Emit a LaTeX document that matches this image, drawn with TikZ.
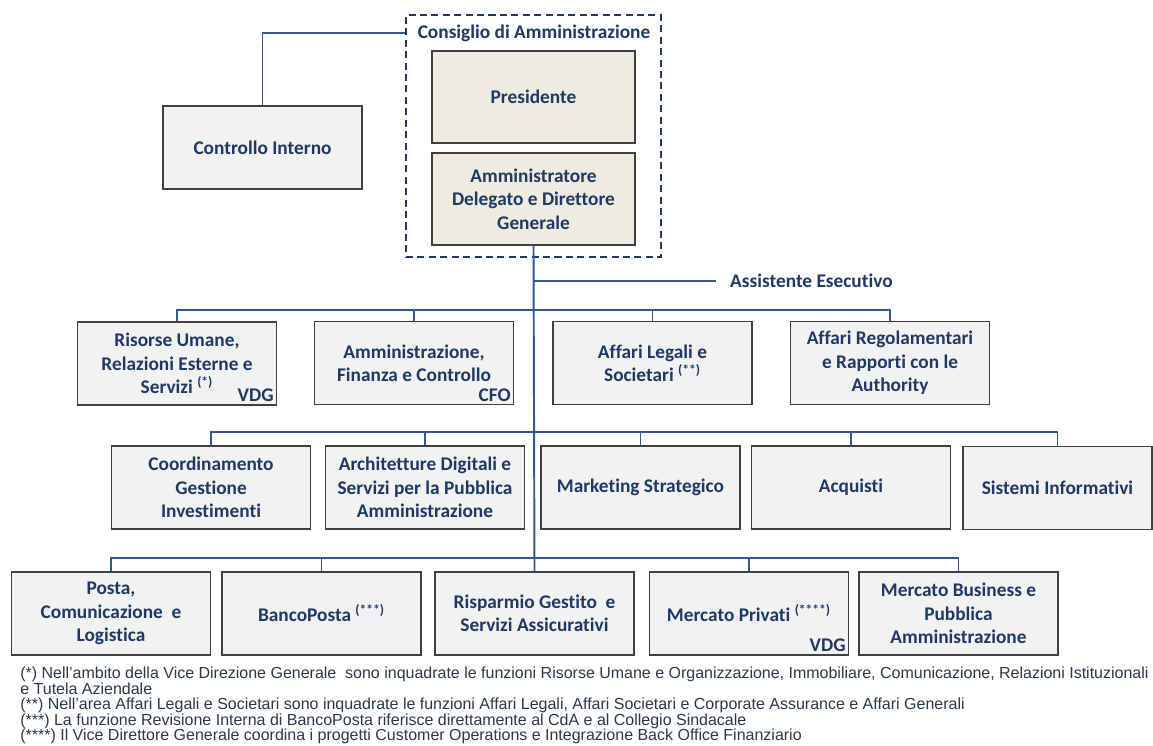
\documentclass[tikz,border=0pt]{standalone}
\usepackage{fontspec}
\setmainfont{Carlito}[Ligatures=NoCommon]
\newfontfamily\notefont{Liberation Sans}
\usepackage{xcolor}
\definecolor{navy}{RGB}{31,56,100}
\definecolor{linea}{RGB}{52,88,146}
\definecolor{boxgray}{RGB}{242,242,242}
\definecolor{boxbeige}{RGB}{238,236,225}
\definecolor{notecol}{RGB}{45,55,75}
\usepackage{tikz}
\usetikzlibrary{positioning,calc}

\begin{document}
\begin{tikzpicture}[x=0.02cm,y=-0.02cm,
  unit/.style={draw=black!75,line width=1.1pt,fill=boxgray,minimum width=3.98cm,minimum height=1.66cm,
    align=center,text=navy,font=\fontsize{11}{13.3}\selectfont\bfseries,inner sep=2pt},
  board/.style={unit,fill=boxbeige,minimum width=4.06cm,minimum height=1.84cm},
  tag/.style={anchor=south east,text=navy,font=\fontsize{11}{13}\selectfont\bfseries,inner sep=2pt},
  link/.style={draw=linea,line width=1.1pt}]
  \useasboundingbox (0,0) rectangle (1153,745);

  % The board of directors:
  \node[draw=navy,line width=1.2pt,dash pattern=on 4pt off 2.5pt,minimum width=5.1cm,minimum height=4.84cm] (cda) at (533.5,136) {};
  \node[text=navy,font=\fontsize{11}{13}\selectfont\bfseries] (cdatitle) at (534,33) {Consiglio di Amministrazione};
  \node[board] (pres) at (533.5,97) {Presidente};
  \node[board] (ad) at (533.5,199) {Amministratore\\Delegato e Direttore\\Generale};
  \node[unit] (ci) at (262.5,147.5) {Controllo Interno};
  \draw[link] (ci.north) |- (cda.west |- cdatitle);

  % First row:
  \node[unit] (ru) at (177,363.5) {Risorse Umane,\\Relazioni Esterne e\\Servizi~\textsuperscript{(*)}};
  \node[unit] (afc) at (414,363) {Amministrazione,\\Finanza e Controllo};
  \node[unit] (als) at (652.5,363) {Affari Legali e\\Societari \textsuperscript{(**)}};
  \node[unit] (arg) at (890,363) {Affari Regolamentari\\e Rapporti con le\\Authority};
  \node[tag] (vdg1) at (ru.south east) {VDG};
  \node[tag] (cfo) at (afc.south east) {CFO};

  % Second row:
  \node[unit] (cgi) at (211,487.5) {Coordinamento\\Gestione\\Investimenti};
  \node[unit] (ads) at (425,487.5) {Architetture Digitali e\\Servizi per la Pubblica\\Amministrazione};
  \node[unit] (mks) at (640.5,487.5) {Marketing Strategico};
  \node[unit] (acq) at (851,487.5) {Acquisti};
  \node[unit,minimum width=3.78cm] (sin) at (1057.5,488) {Sistemi Informativi};

  % Third row:
  \node[unit] (pcl) at (111,613.5) {Posta,\\Comunicazione~ e\\Logistica};
  \node[unit] (bpo) at (321.5,613.5) {BancoPosta \textsuperscript{(***)}};
  \node[unit] (rgs) at (534.5,613.5) {Risparmio Gestito~ e\\Servizi Assicurativi};
  \node[unit] (mpr) at (749,613.5) {Mercato Privati \textsuperscript{(****)}};
  \node[unit] (mbp) at (958.5,613.5) {Mercato Business e\\Pubblica\\Amministrazione};
  \node[tag] (vdg2) at (mpr.south east) {VDG};

  % The connectors:
  \node[text=navy,font=\fontsize{11}{13}\selectfont\bfseries,anchor=west] (ass) at (724,281) {Assistente Esecutivo};
  \coordinate (bus1) at (534,310);
  \coordinate (bus2) at (534,432);
  \coordinate (bus3) at (534,558);
  \draw[link] (ad.south) -- (rgs.north);
  \draw[link] (ad.south |- ass) -- ++(182,0);
  \draw[link] (ru.north) |- (bus1) -| (arg.north);
  \draw[link] (cgi.north) |- (bus2) -| (sin.north);
  \draw[link] (pcl.north) |- (bus3) -| (mbp.north);
  \foreach \n/\b in {afc/bus1,als/bus1,ads/bus2,mks/bus2,acq/bus2,bpo/bus3,mpr/bus3}
    \draw[link] (\n.north) -- (\n.north |- \b);

  % The notes:
  \node[anchor=north west,align=left,inner sep=0pt,text=notecol,font=\notefont\fontsize{9.1}{8.8}\selectfont] (notes) at (20,667)
    {(*) Nell’ambito della Vice Direzione Generale~ sono inquadrate le funzioni Risorse Umane e Organizzazione, Immobiliare, Comunicazione, Relazioni Istituzionali\\
     e Tutela Aziendale\\
     (**) Nell’area Affari Legali e Societari sono inquadrate le funzioni Affari Legali, Affari Societari e Corporate Assurance e Affari Generali\\
     (***) La funzione Revisione Interna di BancoPosta riferisce direttamente al CdA e al Collegio Sindacale\\
     (****) Il Vice Direttore Generale coordina i progetti Customer Operations e Integrazione Back Office Finanziario};
\end{tikzpicture}
\end{document}
